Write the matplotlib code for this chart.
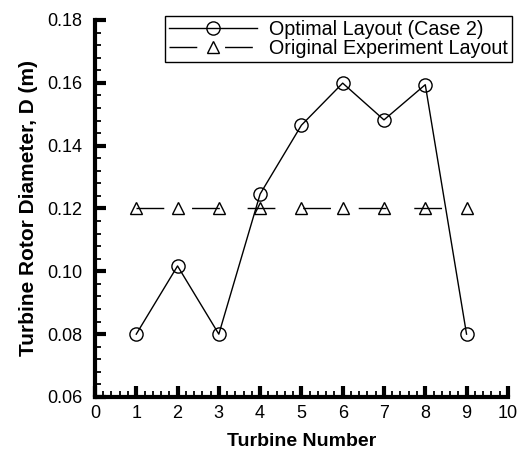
#!/usr/bin/env python3
"""Turbine rotor diameter per turbine: optimal vs original layout."""
import matplotlib

matplotlib.use("Agg")
import matplotlib.pyplot as plt
from matplotlib.ticker import MultipleLocator

turbines = [1, 2, 3, 4, 5, 6, 7, 8, 9]
d_optimal = [0.080, 0.1017, 0.080, 0.1246, 0.1465, 0.1599, 0.1482, 0.1594, 0.080]
d_original = [0.12] * 9

plt.rcParams["font.family"] = ["Liberation Sans", "DejaVu Sans"]

fig = plt.figure(figsize=(5.23, 4.54), dpi=100)
ax = fig.add_axes([0.1816, 0.1256, 0.7894, 0.8304])

ax.plot(turbines, d_optimal, color="black", lw=1.0, marker="o", ms=9.5,
        mfc="none", mec="black", mew=1.0, label="Optimal Layout (Case 2)")
ax.plot(turbines, d_original, color="black", lw=1.0, ls=(0, (20, 20)),
        marker="^", ms=8.5, mfc="none", mec="black", mew=1.0,
        label="Original Experiment Layout")

ax.set_xlim(0, 10)
ax.set_ylim(0.06, 0.18)
ax.xaxis.set_major_locator(MultipleLocator(1))
ax.xaxis.set_minor_locator(MultipleLocator(0.2))
ax.yaxis.set_major_locator(MultipleLocator(0.02))
ax.yaxis.set_minor_locator(MultipleLocator(0.004))
ax.yaxis.set_major_formatter(lambda v, p: f"{v:.2f}")

for s in ("top", "right"):
    ax.spines[s].set_visible(False)
for s in ("left", "bottom"):
    ax.spines[s].set_linewidth(3)

ax.tick_params(which="major", direction="in", length=8, width=3, labelsize=13)
ax.tick_params(which="minor", direction="in", length=4, width=1.3)
ax.tick_params(axis="x", which="major", pad=6)
ax.tick_params(axis="y", which="major", pad=9)

ax.set_xlabel("Turbine Number", fontsize=14, fontweight="bold", labelpad=8)
ax.set_ylabel("Turbine Rotor Diameter, D (m)", fontsize=15, fontweight="bold", labelpad=7)

leg = ax.legend(loc="upper right", bbox_to_anchor=(1.01, 1.01), fontsize=14.2,
                frameon=True, fancybox=False, edgecolor="black", framealpha=1,
                handlelength=4.5, handletextpad=0.6, borderpad=0.2,
                labelspacing=0.0, borderaxespad=0.0)
leg.get_frame().set_linewidth(1.0)

fig.savefig("out.png", dpi=100)
plt.close(fig)
